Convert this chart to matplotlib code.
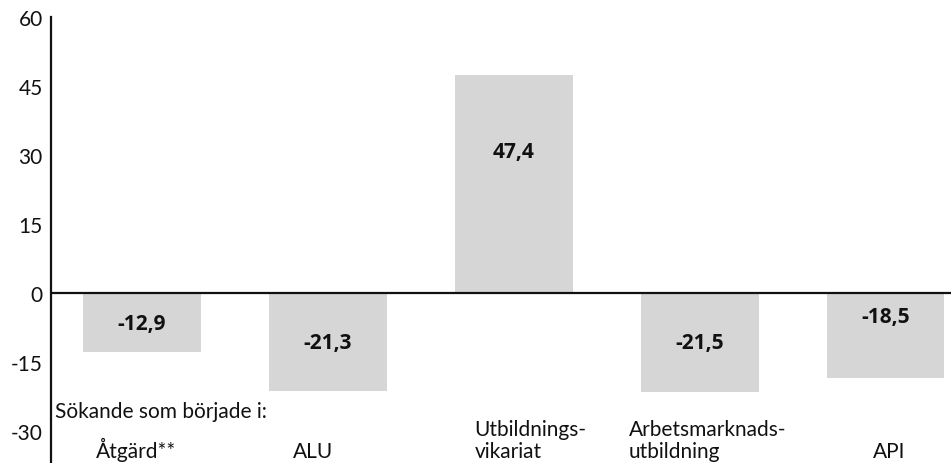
import matplotlib.pyplot as plt

categories = ['Åtgärd**', 'ALU', 'Utbildnings-\nvikariat', 'Arbetsmarknads-\nutbildning', 'API']
values = [-12.9, -21.3, 47.4, -21.5, -18.5]
value_labels = ['-12,9', '-21,3', '47,4', '-21,5', '-18,5']
yticks = [60, 45, 30, 15, 0, -15, -30]
# where the value label sits, as a share of the bar length
label_frac = [0.52, 0.5, 0.65, 0.5, 0.28]
# small shifts of the category labels, in bar units
cat_shift = [-0.03, -0.08, 0.09, 0.04, 0.02]

plt.rcParams['font.family'] = ['Lato', 'DejaVu Sans']

fig = plt.figure(figsize=(9.51, 4.64), dpi=100)
ax = fig.add_axes([51 / 951, 1 / 464, 900 / 951, 445 / 464])

x = list(range(len(values)))
ax.bar(x, values, width=0.63, color='#d6d6d6', edgecolor='none', zorder=1)
ax.axhline(0, color='#111111', linewidth=1.6, zorder=2)

for xi, v, lab, f in zip(x, values, value_labels, label_frac):
    ax.text(xi, v * f, lab, ha='center', va='center', fontsize=15,
            fontweight='bold', family=['Open Sans', 'DejaVu Sans'], color='#111111')

for xi, cat, d in zip(x, categories, cat_shift):
    ax.text(xi + d, -36.4, cat, ha='center', va='bottom', fontsize=15,
            multialignment='left', linespacing=1.1, color='#111111')

ax.text(0.004, -25.6, 'Sökande som började i:', transform=ax.get_yaxis_transform(),
        ha='left', va='center', fontsize=15, color='#111111')

ax.set_xlim(-0.489, 4.35)
ax.set_ylim(-36.7, 60)
ax.set_yticks(yticks)
ax.set_yticklabels([str(t) for t in yticks], fontsize=15, color='#111111')
ax.tick_params(axis='y', length=0, pad=6)
ax.set_xticks([])

for s in ['top', 'right', 'bottom']:
    ax.spines[s].set_visible(False)
ax.spines['left'].set_linewidth(1.6)
ax.spines['left'].set_color('#111111')
ax.set_facecolor('white')

fig.savefig('out.png', dpi=100)
